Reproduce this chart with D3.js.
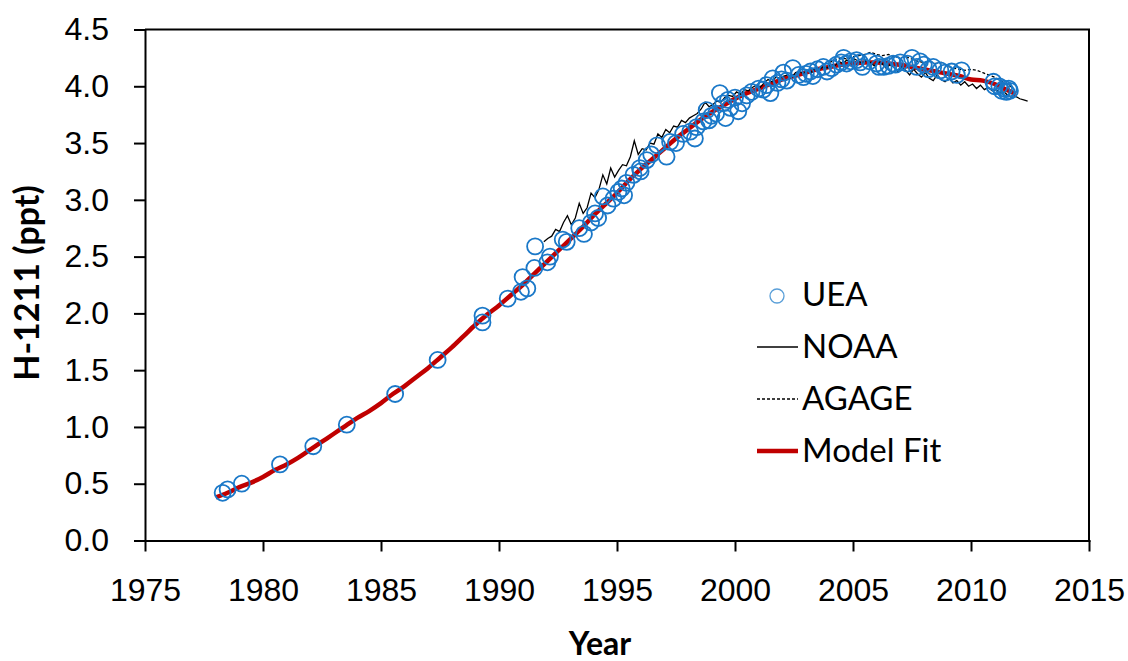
<!DOCTYPE html>
<html>
<head>
<meta charset="utf-8">
<script src="https://cdn.jsdelivr.net/npm/d3@7"></script>
<style>
	body { margin: 0; background: #fff; }
	svg { display: block; font-family: Lato, 'Open Sans', sans-serif; }
	.axis text { font-size: 32px; fill: #000; }
	.axis path, .axis line { stroke: #000; stroke-width: 2; }
</style>
</head>
<body>
<div id="chart"></div>
<script>
// UEA flask record (year, ppt)
const ueaYears = [1978.29, 1978.5, 1979.1, 1980.72, 1982.13, 1983.55, 1985.6, 1987.4, 1989.3, 1989.3,
	1990.37, 1990.93, 1991.0, 1991.2, 1991.5, 1991.53, 1992.05, 1992.16, 1992.7, 1992.87,
	1993.4, 1993.6, 1993.9, 1994.07, 1994.2, 1994.4, 1994.6, 1994.85, 1995.06, 1995.2,
	1995.3, 1995.4, 1995.7, 1995.97, 1996.0, 1996.26, 1996.45, 1996.7, 1997.1, 1997.25,
	1997.5, 1997.8, 1998.1, 1998.3, 1998.37, 1998.66, 1998.8, 1998.9, 1999.0, 1999.2,
	1999.36, 1999.5, 1999.6, 1999.7, 1999.8, 2000.0, 2000.14, 2000.3, 2000.5, 2000.7,
	2001.0, 2001.2, 2001.34, 2001.5, 2001.6, 2001.8, 2001.97, 2002.05, 2002.2, 2002.45,
	2002.7, 2002.9, 2003.0, 2003.2, 2003.3, 2003.5, 2003.74, 2003.9, 2004.1, 2004.3,
	2004.5, 2004.6, 2004.73, 2004.9, 2005.15, 2005.3, 2005.4, 2005.7, 2006.0, 2006.1,
	2006.3, 2006.5, 2006.7, 2006.8, 2007.0, 2007.3, 2007.5, 2007.7, 2007.84, 2008.0,
	2008.2, 2008.4, 2008.7, 2008.9, 2009.18, 2009.4, 2009.6, 2010.95, 2011.0, 2011.2,
	2011.3, 2011.4, 2011.5, 2011.6, 2011.65]
const ueaValues = [0.42, 0.45, 0.50, 0.67, 0.83, 1.02, 1.29, 1.59, 1.98, 1.92,
	2.13, 2.19, 2.32, 2.22, 2.40, 2.59, 2.45, 2.50, 2.65, 2.63,
	2.75, 2.70, 2.80, 2.88, 2.84, 3.03, 2.95, 3.01, 3.07, 3.10,
	3.04, 3.15, 3.22, 3.28, 3.25, 3.35, 3.40, 3.48, 3.38, 3.51,
	3.50, 3.58, 3.60, 3.54, 3.64, 3.69, 3.79, 3.70, 3.74, 3.76,
	3.94, 3.85, 3.72, 3.88, 3.81, 3.90, 3.78, 3.85, 3.92, 3.95,
	3.98, 3.97, 4.01, 3.94, 4.07, 4.03, 4.06, 4.12, 4.05, 4.16,
	4.10, 4.08, 4.11, 4.13, 4.09, 4.15, 4.17, 4.13, 4.16, 4.19,
	4.21, 4.25, 4.20, 4.22, 4.23, 4.21, 4.17, 4.22, 4.20, 4.17,
	4.17, 4.18, 4.20, 4.19, 4.21, 4.20, 4.25, 4.17, 4.22, 4.19,
	4.15, 4.17, 4.14, 4.12, 4.13, 4.10, 4.14, 4.04, 4.00, 4.00,
	3.96, 3.98, 3.95, 3.98, 3.96]

// NOAA, every two months from late 1991
const noaaStart = 1991.9
const noaaStep = 1 / 6
const noaaValues = [2.63, 2.66, 2.68, 2.74, 2.72, 2.80, 2.86, 2.78, 2.84, 2.97,
	2.88, 2.93, 3.06, 3.02, 3.09, 3.22, 3.14, 3.28, 3.20, 3.26,
	3.31, 3.30, 3.38, 3.52, 3.40, 3.45, 3.44, 3.50, 3.49, 3.58,
	3.55, 3.62, 3.59, 3.65, 3.64, 3.70, 3.68, 3.72, 3.74, 3.76,
	3.80, 3.86, 3.82, 3.84, 3.87, 3.86, 3.90, 3.92, 3.91, 3.95,
	3.93, 3.97, 3.96, 3.99, 4.01, 3.99, 4.03, 4.06, 4.04, 4.08,
	4.07, 4.09, 4.10, 4.08, 4.12, 4.13, 4.11, 4.14, 4.12, 4.16,
	4.15, 4.17, 4.16, 4.19, 4.18, 4.22, 4.20, 4.23, 4.21, 4.24,
	4.22, 4.20, 4.23, 4.21, 4.18, 4.22, 4.20, 4.16, 4.19, 4.17,
	4.13, 4.17, 4.14, 4.10, 4.15, 4.11, 4.08, 4.12, 4.07, 4.05,
	4.10, 4.06, 4.04, 4.07, 4.03, 4.05, 4.01, 4.04, 4.00, 4.02,
	3.98, 4.01, 3.97, 3.99, 3.96, 3.97, 3.94, 3.95, 3.92, 3.90,
	3.91, 3.89, 3.88, 3.87]

// AGAGE, quarterly
const agageStart = 2004.0
const agageStep = 0.25
const agageValues = [4.21, 4.23, 4.25, 4.24, 4.26, 4.27, 4.28, 4.30, 4.28, 4.27,
	4.28, 4.26, 4.25, 4.26, 4.24, 4.22, 4.21, 4.22, 4.20, 4.21,
	4.18, 4.16, 4.15, 4.14, 4.15, 4.14, 4.12, 4.10, 4.08, 4.05,
	4.02, 3.99]

// Model fit
const fitYears = [1978.0, 1978.5, 1979.0, 1979.5, 1980.0, 1980.5, 1981.0, 1981.5, 1982.0, 1982.5,
	1983.0, 1983.5, 1984.0, 1984.5, 1985.0, 1985.5, 1986.0, 1986.5, 1987.0, 1987.5,
	1988.0, 1988.5, 1989.0, 1989.5, 1990.0, 1990.5, 1991.0, 1991.5, 1992.0, 1992.5,
	1993.0, 1993.5, 1994.0, 1994.5, 1995.0, 1995.5, 1996.0, 1996.5, 1997.0, 1997.5,
	1998.0, 1998.5, 1999.0, 1999.5, 2000.0, 2000.5, 2001.0, 2001.5, 2002.0, 2002.5,
	2003.0, 2003.5, 2004.0, 2004.5, 2005.0, 2005.5, 2006.0, 2006.5, 2007.0, 2007.5,
	2008.0, 2008.5, 2009.0, 2009.5, 2010.0, 2010.5, 2011.0, 2011.5, 2011.9]
const fitValues = [0.38, 0.42, 0.47, 0.51, 0.56, 0.62, 0.67, 0.73, 0.80, 0.87,
	0.94, 1.01, 1.08, 1.14, 1.21, 1.29, 1.36, 1.44, 1.52, 1.61,
	1.70, 1.80, 1.90, 1.99, 2.07, 2.16, 2.25, 2.35, 2.45, 2.55,
	2.65, 2.75, 2.86, 2.96, 3.06, 3.17, 3.27, 3.36, 3.45, 3.54,
	3.62, 3.70, 3.77, 3.83, 3.89, 3.94, 3.98, 4.02, 4.06, 4.09,
	4.12, 4.15, 4.17, 4.19, 4.20, 4.21, 4.21, 4.20, 4.19, 4.17,
	4.15, 4.13, 4.11, 4.09, 4.06, 4.05, 4.02, 3.97, 3.93]

const xTicks = [1975, 1980, 1985, 1990, 1995, 2000, 2005, 2010, 2015]
const yTicks = [0, 0.5, 1, 1.5, 2, 2.5, 3, 3.5, 4, 4.5]

const legendLabels = ['UEA', 'NOAA', 'AGAGE', 'Model Fit']

const width = 1128
const height = 661
const plotLeft = 145, plotRight = 1089, plotTop = 29.5, plotBottom = 540.5

const svg = d3
	.select('#chart')
	.append('svg')
	.attr('width', width)
	.attr('height', height)

const x = d3.scaleLinear().domain([1975, 2015]).range([plotLeft, plotRight])
const y = d3.scaleLinear().domain([0, 4.5]).range([plotBottom, plotTop])

const uea = ueaYears.map((yr, i) => ({ year: yr, value: ueaValues[i] }))
const noaa = noaaValues.map((v, i) => ({ year: noaaStart + i * noaaStep, value: v }))
const agage = agageValues.map((v, i) => ({ year: agageStart + i * agageStep, value: v }))
const fit = fitYears.map((yr, i) => ({ year: yr, value: fitValues[i] }))

const line = d3
	.line()
	.x(d => x(d.year))
	.y(d => y(d.value))

// frame (top + right)
svg.append('path')
	.attr('d', `M${plotLeft},${plotTop}H${plotRight}V${plotBottom}`)
	.attr('fill', 'none')
	.attr('stroke', '#000')
	.attr('stroke-width', 2)

svg.append('g')
	.attr('class', 'axis')
	.attr('transform', `translate(0,${plotBottom})`)
	.call(
		d3.axisBottom(x)
			.tickValues(xTicks)
			.tickFormat(d3.format('d'))
			.tickSize(11)
			.tickSizeOuter(0)
			.tickPadding(27)
	)

svg.append('g')
	.attr('class', 'axis')
	.attr('transform', `translate(${plotLeft},0)`)
	.call(
		d3.axisLeft(y)
			.tickValues(yTicks)
			.tickFormat(d3.format('.1f'))
			.tickSize(11)
			.tickSizeOuter(0)
			.tickPadding(25)
	)

svg.selectAll('.axis .domain').attr('stroke-linecap', 'square')

// series
svg.append('path')
	.datum(fit)
	.attr('d', line.curve(d3.curveMonotoneX))
	.attr('fill', 'none')
	.attr('stroke', '#c00000')
	.attr('stroke-width', 4.5)

line.curve(d3.curveLinear)

svg.append('path')
	.datum(noaa)
	.attr('d', line)
	.attr('fill', 'none')
	.attr('stroke', '#000')
	.attr('stroke-width', 1.3)

svg.append('path')
	.datum(agage)
	.attr('d', line)
	.attr('fill', 'none')
	.attr('stroke', '#000')
	.attr('stroke-width', 1.3)
	.attr('stroke-dasharray', '3,2')

svg.append('g')
	.selectAll('circle')
	.data(uea)
	.enter()
	.append('circle')
	.attr('cx', d => x(d.year))
	.attr('cy', d => y(d.value))
	.attr('r', 8)
	.attr('fill', 'none')
	.attr('stroke', '#1a78c8')
	.attr('stroke-width', 1.8)

// axis titles
svg.append('text')
	.attr('transform', 'translate(39,283) rotate(-90)')
	.attr('text-anchor', 'middle')
	.attr('font-size', 34)
	.attr('font-weight', 'bold')
	.text('H-1211 (ppt)')

svg.append('text')
	.attr('x', 600)
	.attr('y', 655)
	.attr('text-anchor', 'middle')
	.attr('font-size', 32)
	.attr('font-weight', 'bold')
	.text('Year')

// legend
const legend = svg.append('g')
const rowY = [306, 358, 410, 462]

legend.append('circle')
	.attr('cx', 777).attr('cy', rowY[0] - 10).attr('r', 7)
	.attr('fill', 'none').attr('stroke', '#5a9fd8').attr('stroke-width', 1.3)
legend.append('line')
	.attr('x1', 757).attr('x2', 798).attr('y1', rowY[1] - 11).attr('y2', rowY[1] - 11)
	.attr('stroke', '#000').attr('stroke-width', 1.3)
legend.append('line')
	.attr('x1', 757).attr('x2', 798).attr('y1', rowY[2] - 11).attr('y2', rowY[2] - 11)
	.attr('stroke', '#000').attr('stroke-width', 1.3).attr('stroke-dasharray', '3,2')
legend.append('line')
	.attr('x1', 757).attr('x2', 798).attr('y1', rowY[3] - 11).attr('y2', rowY[3] - 11)
	.attr('stroke', '#c00000').attr('stroke-width', 4.5)

legend.selectAll('text')
	.data(legendLabels)
	.enter()
	.append('text')
	.attr('x', 802)
	.attr('y', (d, i) => rowY[i])
	.attr('font-size', 33)
	.text(d => d)
</script>
</body>
</html>
